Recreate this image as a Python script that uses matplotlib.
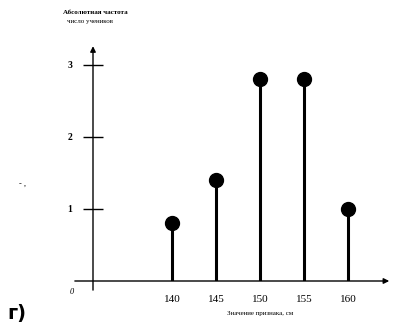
import matplotlib
matplotlib.use("Agg")
import matplotlib.pyplot as plt

# Heights of students and their absolute frequencies
heights = [140, 145, 150, 155, 160]
counts = [0.8, 1.4, 2.8, 2.8, 1.0]
y_ticks = [1, 2, 3]
y_tick_labels = ["1", "2", "3"]
x_tick_labels = ["140", "145", "150", "155", "160"]

plt.rcParams["font.family"] = ["Liberation Serif", "DejaVu Serif"]

fig = plt.figure(figsize=(4.19, 3.29), dpi=100)
ax = fig.add_axes([93 / 419, 48 / 329, 299 / 419, 237.6 / 329])
ax.set_xlim(131, 165)
ax.set_ylim(0, 3.3)

for s in ax.spines.values():
    s.set_visible(False)

# stems with round heads
ax.vlines(heights, 0, counts, color="black", lw=2.2)
ax.plot(heights, counts, "o", color="black", ms=10)

# axes with arrows
ax.annotate("", xy=(1.0, 0), xytext=(-0.07, 0), xycoords="axes fraction",
            arrowprops=dict(arrowstyle="-|>", color="black", lw=1.0,
                            mutation_scale=8))
ax.annotate("", xy=(0, 1.0), xytext=(0, -0.05), xycoords="axes fraction",
            arrowprops=dict(arrowstyle="-|>", color="black", lw=1.0,
                            mutation_scale=8))

ax.set_yticks(y_ticks)
ax.set_yticklabels(y_tick_labels, fontsize=7, fontweight="bold")
ax.tick_params(axis="y", direction="inout", length=14, width=1.0, pad=8)
ax.set_xticks(heights)
ax.set_xticklabels(x_tick_labels, fontsize=8)
ax.tick_params(axis="x", length=0, pad=10)

ax.text(-0.07, -0.03, "0", transform=ax.transAxes, fontsize=6,
        ha="center", va="top", style="italic")

fig.text(95 / 419, 1 - 12 / 329, "Абсолютная частота", fontsize=5,
         fontweight="bold", ha="center", va="center")
fig.text(90 / 419, 1 - 22 / 329, "число учеников", fontsize=5,
         ha="center", va="center")
fig.text(260 / 419, 1 - 313 / 329, "Значение признака, см", fontsize=5,
         ha="center", va="center")
fig.text(22 / 419, 1 - 185 / 329, "- ,", fontsize=6,
         ha="center", va="center")
fig.text(17 / 419, 1 - 313 / 329, "г)", fontsize=14, fontweight="bold",
         family=["DejaVu Sans"], ha="center", va="center")

fig.savefig("out.png", dpi=100, facecolor="white")
